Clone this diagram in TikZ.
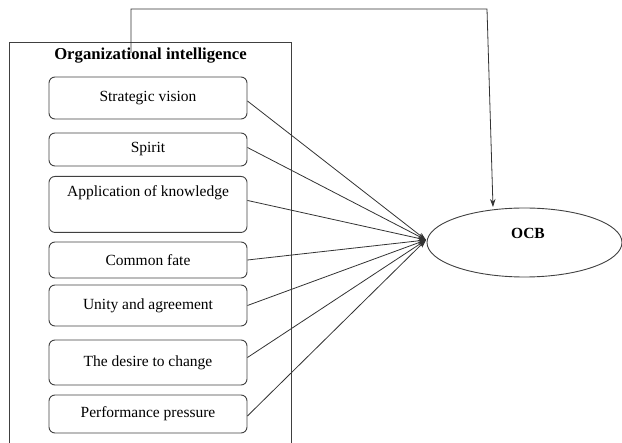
\documentclass[tikz,border=0pt]{standalone}
\usepackage{fontspec}
\setmainfont{Liberation Serif}
\usetikzlibrary{arrows.meta,shapes.geometric}
\tikzset{
  frame/.style={draw=black!75, line width=0.9pt},
  itembox/.style={draw=black!75, line width=0.9pt, rounded corners=6pt, minimum width=198pt, inner sep=0pt, font=\fontsize{15.5}{18}\selectfont},
  link/.style={draw=black!80, line width=0.8pt, -{Stealth[length=8pt,width=5.5pt]}},
}
\begin{document}
\begin{tikzpicture}[x=1pt,y=-1pt]
\useasboundingbox (0,0) rectangle (622,443);
\begin{scope}
\clip (0,0) rectangle (622,443);
% outer frame (open at bottom)
\draw[frame] (9,445) -- (9,42) -- (291,42) -- (291,445);
\node[font=\bfseries\fontsize{16.7}{19}\selectfont, inner sep=0pt] (title) at (150.5,56) {Organizational intelligence};

\node[itembox, minimum height=42pt] (sv) at (148,98) {Strategic vision};
\node[itembox, minimum height=33pt] (sp) at (148,149.5) {Spirit};
\node[itembox, minimum height=56pt, anchor=north] (ak) at (148,176) {};
\node[font=\fontsize{15.5}{18}\selectfont] (akt) at (148,193) {Application of knowledge};
\node[itembox, minimum height=36pt] (cf) at (148,260) {Common fate};
\node[itembox, minimum height=41pt] (ua) at (148,305.5) {Unity and agreement};
\node[itembox, minimum height=45pt] (dc) at (148,362.5) {The desire to change};
\node[itembox, minimum height=38pt] (pp) at (148,414) {Performance pressure};

\node[draw=black!75, line width=0.9pt, ellipse, minimum width=195pt, minimum height=69pt, inner sep=0pt] (ocb) at (524.5,242.5) {};
\node[font=\bfseries\fontsize{15.5}{18}\selectfont] (ocbt) at (528,233) {OCB};
\coordinate (hub) at (426,240);
\coordinate (c1) at (131,9);
\coordinate (c2) at (487,9);
\coordinate (top) at (493,207);
\coordinate (start) at (131,53);

\draw[link] ([yshift=-3pt]sv.east) -- (hub);
\draw[link] ([yshift=2pt]sp.east) -- (hub);
\draw[link] ([yshift=4pt]ak.east) -- (hub);
\draw[link] (cf.east) -- (hub);
\draw[link] (ua.east) -- (hub);
\draw[link] ([yshift=5pt]dc.east) -- (hub);
\draw[link] ([yshift=-2pt]pp.east) -- (hub);

\draw[link] (start) -- (c1) -- (c2) -- (top);
\end{scope}
\end{tikzpicture}
\end{document}
